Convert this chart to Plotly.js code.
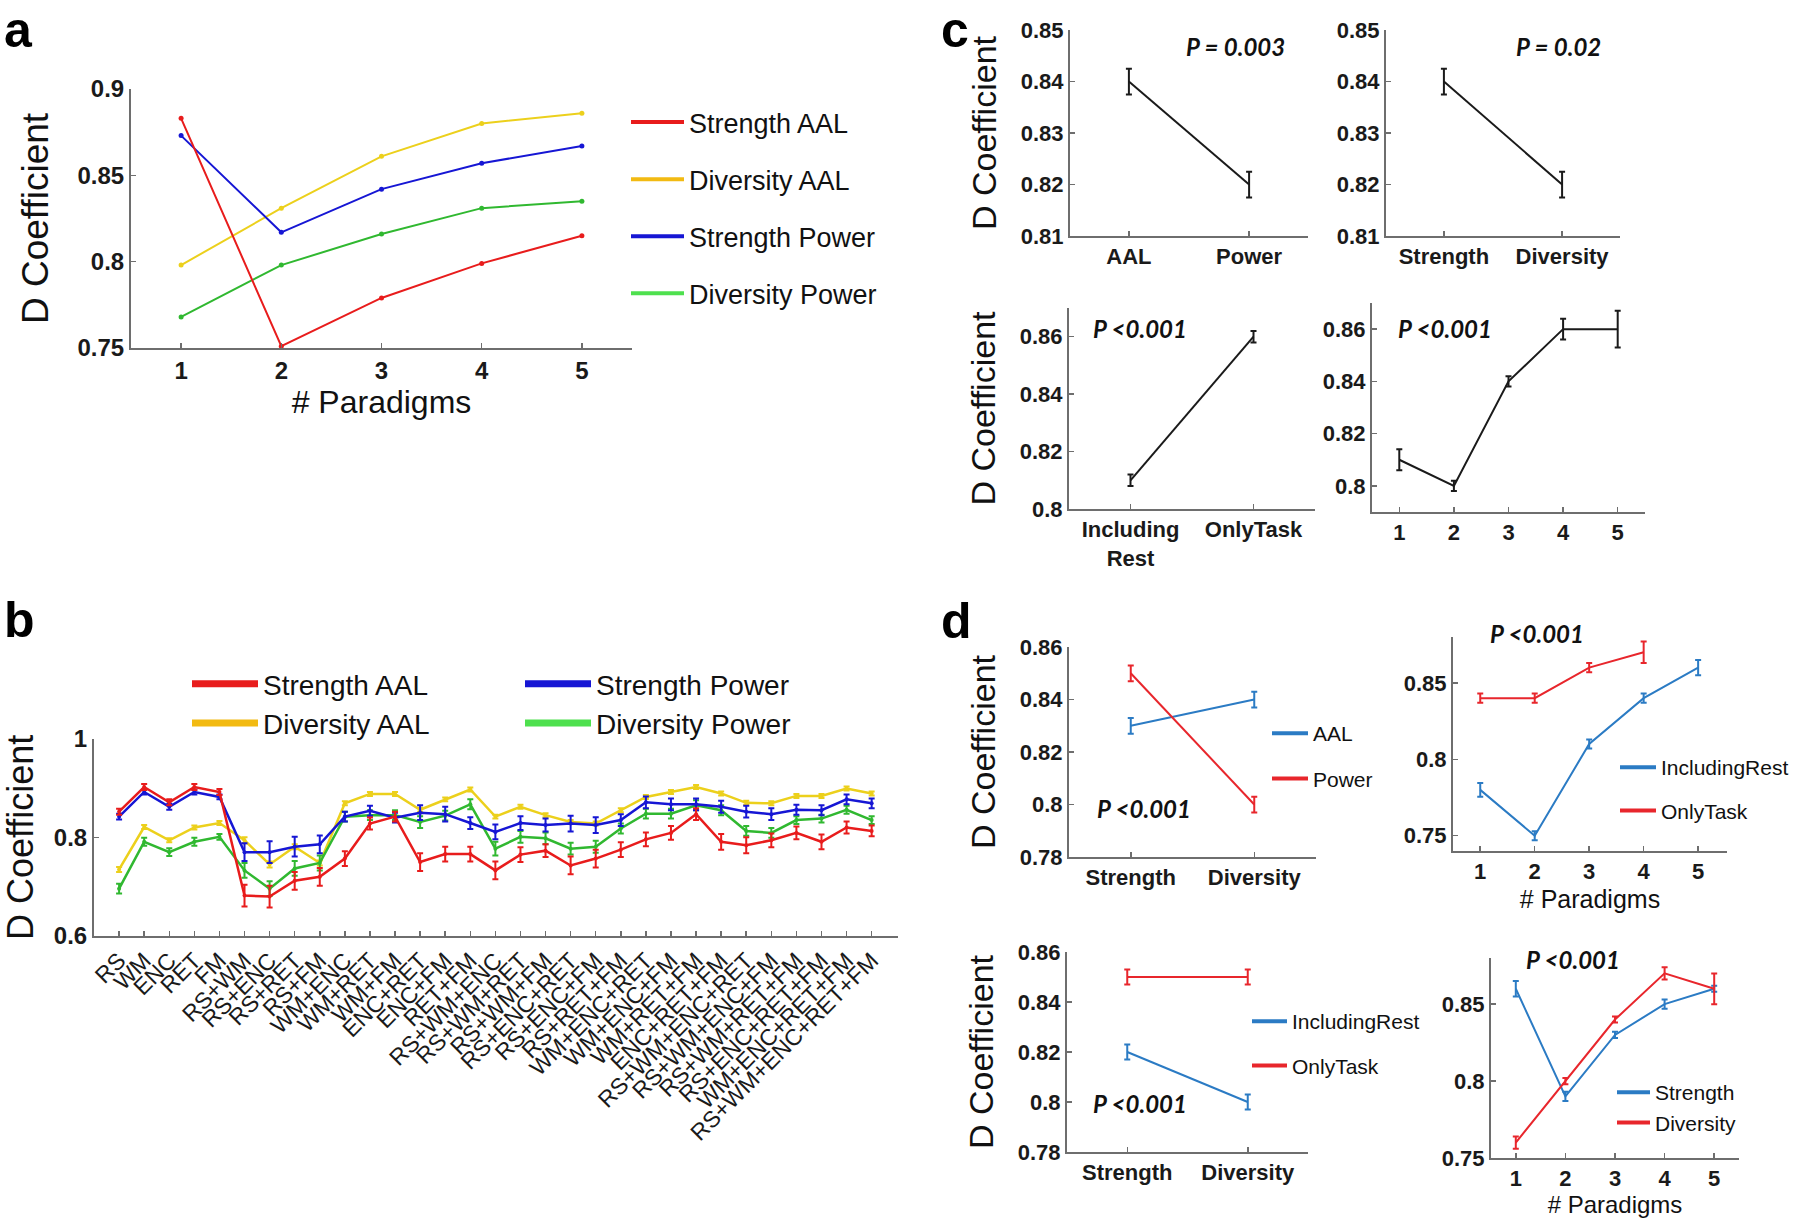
<!DOCTYPE html>
<html>
<head>
<meta charset="utf-8">
<script src="https://cdn.plot.ly/plotly-3.0.1.min.js"></script>
<style>html,body{margin:0;padding:0;background:#fff;}#fig{width:1800px;height:1222px;}</style>
</head>
<body>
<div id="fig"></div>
<script>
// ---------------- DATA ----------------
// Panel a
const paradigmsN = [1, 2, 3, 4, 5];
const aStrengthAAL   = [0.883, 0.751, 0.779, 0.799, 0.815];
const aDiversityAAL  = [0.798, 0.831, 0.861, 0.880, 0.886];
const aStrengthPower = [0.873, 0.817, 0.842, 0.857, 0.867];
const aDiversityPower= [0.768, 0.798, 0.816, 0.831, 0.835];

// Panel b
const bCategories = ['RS','WM','ENC','RET','FM','RS+WM','RS+ENC','RS+RET','RS+FM','WM+ENC','WM+RET','WM+FM',
  'ENC+RET','ENC+FM','RET+FM','RS+WM+ENC','RS+WM+RET','RS+WM+FM','RS+ENC+RET','RS+ENC+FM','RS+RET+FM',
  'WM+ENC+RET','WM+ENC+FM','WM+RET+FM','ENC+RET+FM','RS+WM+ENC+RET','RS+WM+ENC+FM','RS+WM+RET+FM',
  'RS+ENC+RET+FM','WM+ENC+RET+FM','RS+WM+ENC+RET+FM'];
const bStrengthAAL   = [0.852,0.902,0.871,0.902,0.892,0.682,0.680,0.712,0.720,0.757,0.828,0.842,0.750,0.766,0.766,
  0.733,0.765,0.773,0.743,0.757,0.775,0.796,0.809,0.847,0.791,0.784,0.794,0.809,0.791,0.820,0.813];
const bStrengthAALErr= [0.006,0.006,0.006,0.006,0.006,0.022,0.022,0.018,0.018,0.015,0.012,0.010,0.018,0.015,0.015,
  0.018,0.015,0.013,0.018,0.018,0.015,0.014,0.014,0.012,0.016,0.016,0.014,0.013,0.015,0.012,0.011];
const bDiversityAAL  = [0.735,0.821,0.794,0.820,0.829,0.794,0.745,0.781,0.748,0.869,0.888,0.888,0.856,0.877,0.897,
  0.842,0.862,0.845,0.831,0.828,0.855,0.882,0.892,0.902,0.889,0.870,0.869,0.884,0.884,0.899,0.889];
const bDiversityAALErr=[0.005,0.004,0.004,0.004,0.004,0.006,0.006,0.005,0.005,0.004,0.004,0.004,0.004,0.004,0.004,
  0.004,0.004,0.004,0.004,0.004,0.004,0.004,0.004,0.004,0.004,0.004,0.004,0.004,0.004,0.004,0.004];
const bStrengthPower = [0.842,0.892,0.862,0.892,0.882,0.770,0.770,0.781,0.786,0.842,0.854,0.840,0.850,0.847,0.829,
  0.811,0.829,0.825,0.828,0.825,0.835,0.871,0.867,0.867,0.862,0.852,0.847,0.856,0.855,0.877,0.869];
const bStrengthPowerErr=[0.006,0.005,0.006,0.005,0.005,0.018,0.022,0.020,0.018,0.010,0.010,0.010,0.015,0.015,0.012,
  0.015,0.014,0.013,0.016,0.016,0.012,0.012,0.012,0.012,0.012,0.012,0.012,0.010,0.010,0.010,0.010];
const bDiversityPower= [0.696,0.791,0.770,0.791,0.801,0.733,0.696,0.737,0.748,0.842,0.845,0.845,0.831,0.844,0.867,
  0.777,0.801,0.798,0.777,0.781,0.818,0.848,0.848,0.865,0.855,0.813,0.809,0.835,0.838,0.856,0.835];
const bDiversityPowerErr=[0.010,0.008,0.008,0.008,0.006,0.015,0.015,0.015,0.015,0.010,0.010,0.010,0.012,0.010,0.010,
  0.014,0.012,0.012,0.012,0.012,0.010,0.010,0.010,0.010,0.010,0.010,0.010,0.008,0.008,0.008,0.008];

// Panel c
const cAtlas = ['AAL', 'Power'];
const cAtlasMean = [0.840, 0.820];
const cAtlasErr  = [0.0025, 0.0025];
const cMeasure = ['Strength', 'Diversity'];
const cMeasureMean = [0.840, 0.820];
const cMeasureErr  = [0.0025, 0.0025];
const cRest = ['Including Rest', 'OnlyTask'];
const cRestTicks = ['Including<br>Rest', 'OnlyTask'];
const cRestMean = [0.810, 0.860];
const cRestErr  = [0.002, 0.002];
const cParadigmMean = [0.810, 0.800, 0.840, 0.860, 0.860];
const cParadigmErr  = [0.004, 0.002, 0.002, 0.004, 0.007];

// Panel d
const dAALMean = [0.830, 0.840],   dAALErr = [0.003, 0.003];
const dPowerMean = [0.850, 0.800], dPowerErr = [0.003, 0.003];
const dParadigmsTask = [1, 2, 3, 4];
const dInclRestByN = [0.780, 0.750, 0.810, 0.840, 0.860], dInclRestByNErr = [0.0045, 0.003, 0.003, 0.003, 0.005];
const dOnlyTaskByN = [0.840, 0.840, 0.860, 0.870],        dOnlyTaskByNErr = [0.003, 0.003, 0.003, 0.007];
const dInclRestByMeasure = [0.820, 0.800], dInclRestByMeasureErr = [0.003, 0.003];
const dOnlyTaskByMeasure = [0.850, 0.850], dOnlyTaskByMeasureErr = [0.003, 0.003];
const dStrengthByN  = [0.860, 0.790, 0.830, 0.850, 0.860], dStrengthByNErr  = [0.005, 0.003, 0.002, 0.003, 0.002];
const dDiversityByN = [0.760, 0.800, 0.840, 0.870, 0.860], dDiversityByNErr = [0.004, 0.002, 0.002, 0.004, 0.010];

// ---------------- STYLE ----------------
const FONT = 'Liberation Sans, Arial, Helvetica, sans-serif';
const PFONT = 'Lato, Open Sans, sans-serif';
const RED = '#e81c1c', YEL = '#ecd01c', BLU = '#1616d4', GRN = '#30b830';
const YEL_L = '#f2ba12', GRN_L = '#4ee04e';
const DBLUE = '#2b7bc4', DRED = '#e8262c', BLACK = '#1a1a1a';
const AX = '#6e6e6e';
const W = 1800, H = 1222;
const px = v => v / W;
const py = v => 1 - v / H;

function axis(x0, x1, range, extra) {
  return Object.assign({
    domain: [x0, x1], range: range, showline: true, linecolor: AX, linewidth: 2,
    ticks: 'inside', ticklen: 5, tickwidth: 1.5, tickcolor: AX,
    showgrid: false, zeroline: false, fixedrange: true, automargin: false,
    tickfont: {family: FONT, size: 22, color: '#1a1a1a', weight: 'bold'}
  }, extra || {});
}
const yTitle = (standoff, size) => ({text: 'D Coefficient', font: {family: FONT, size: size || 35, color: '#111'}, standoff: standoff});
const xTitle = (standoff, size) => ({text: '# Paradigms', font: {family: FONT, size: size || 24, color: '#111'}, standoff: standoff});

function series(xa, ya, x, y, color, width, err, extra) {
  const t = {type: 'scatter', mode: 'lines', x: x, y: y, xaxis: xa, yaxis: ya, showlegend: false,
    line: {color: color, width: width}, hoverinfo: 'skip'};
  if (err) t.error_y = {type: 'data', array: err, visible: true, color: color, thickness: 2, width: 3};
  return Object.assign(t, extra || {});
}
function proxy(xa, ya, name, color, width, legend, group) {
  return {type: 'scatter', mode: 'lines', x: [null], y: [null], xaxis: xa, yaxis: ya, name: name,
    line: {color: color, width: width}, showlegend: true, legend: legend, legendgroup: group, hoverinfo: 'skip'};
}

const traces = [];
// Panel a
const mk = c => ({mode: 'lines+markers', marker: {size: 5, color: c}});
traces.push(series('x', 'y', paradigmsN, aDiversityPower, GRN, 2, null, mk(GRN)));
traces.push(series('x', 'y', paradigmsN, aDiversityAAL, YEL, 2, null, mk(YEL)));
traces.push(series('x', 'y', paradigmsN, aStrengthPower, BLU, 2, null, mk(BLU)));
traces.push(series('x', 'y', paradigmsN, aStrengthAAL, RED, 2, null, mk(RED)));
traces.push(proxy('x', 'y', 'Strength AAL', RED, 4, 'legend', 'a1'));
traces.push(proxy('x', 'y', 'Diversity AAL', YEL_L, 4, 'legend', 'a2'));
traces.push(proxy('x', 'y', 'Strength Power', BLU, 4, 'legend', 'a3'));
traces.push(proxy('x', 'y', 'Diversity Power', GRN_L, 4, 'legend', 'a4'));

// Panel b
const mkb = c => ({mode: 'lines+markers', marker: {size: 4, color: c}});
traces.push(series('x2', 'y2', bCategories, bDiversityAAL, YEL, 2.5, bDiversityAALErr, mkb(YEL)));
traces.push(series('x2', 'y2', bCategories, bDiversityPower, GRN, 2.5, bDiversityPowerErr, mkb(GRN)));
traces.push(series('x2', 'y2', bCategories, bStrengthPower, BLU, 2.5, bStrengthPowerErr, mkb(BLU)));
traces.push(series('x2', 'y2', bCategories, bStrengthAAL, RED, 2.5, bStrengthAALErr, mkb(RED)));
traces.push(proxy('x2', 'y2', 'Strength AAL', RED, 7, 'legend2', 'b1'));
traces.push(proxy('x2', 'y2', 'Diversity AAL', YEL_L, 7, 'legend2', 'b2'));
traces.push(proxy('x2', 'y2', 'Strength Power', BLU, 7, 'legend3', 'b3'));
traces.push(proxy('x2', 'y2', 'Diversity Power', GRN_L, 7, 'legend3', 'b4'));

// Panel c
traces.push(series('x3', 'y3', cAtlas, cAtlasMean, BLACK, 2, cAtlasErr));
traces.push(series('x4', 'y4', cMeasure, cMeasureMean, BLACK, 2, cMeasureErr));
traces.push(series('x5', 'y5', cRest, cRestMean, BLACK, 2, cRestErr));
traces.push(series('x6', 'y6', paradigmsN, cParadigmMean, BLACK, 2, cParadigmErr));

// Panel d
traces.push(series('x7', 'y7', cMeasure, dAALMean, DBLUE, 2, dAALErr));
traces.push(series('x7', 'y7', cMeasure, dPowerMean, DRED, 2, dPowerErr));
traces.push(proxy('x7', 'y7', 'AAL', DBLUE, 4, 'legend4', 'd1a'));
traces.push(proxy('x7', 'y7', 'Power', DRED, 4, 'legend4', 'd1b'));

traces.push(series('x8', 'y8', paradigmsN, dInclRestByN, DBLUE, 2, dInclRestByNErr));
traces.push(series('x8', 'y8', dParadigmsTask, dOnlyTaskByN, DRED, 2, dOnlyTaskByNErr));
traces.push(proxy('x8', 'y8', 'IncludingRest', DBLUE, 4, 'legend5', 'd2a'));
traces.push(proxy('x8', 'y8', 'OnlyTask', DRED, 4, 'legend5', 'd2b'));

traces.push(series('x9', 'y9', cMeasure, dInclRestByMeasure, DBLUE, 2, dInclRestByMeasureErr));
traces.push(series('x9', 'y9', cMeasure, dOnlyTaskByMeasure, DRED, 2, dOnlyTaskByMeasureErr));
traces.push(proxy('x9', 'y9', 'IncludingRest', DBLUE, 4, 'legend6', 'd3a'));
traces.push(proxy('x9', 'y9', 'OnlyTask', DRED, 4, 'legend6', 'd3b'));

traces.push(series('x10', 'y10', paradigmsN, dStrengthByN, DBLUE, 2, dStrengthByNErr));
traces.push(series('x10', 'y10', paradigmsN, dDiversityByN, DRED, 2, dDiversityByNErr));
traces.push(proxy('x10', 'y10', 'Strength', DBLUE, 4, 'legend7', 'd4a'));
traces.push(proxy('x10', 'y10', 'Diversity', DRED, 4, 'legend7', 'd4b'));

function legendAt(lx, topY, size, gap, itemwidth) {
  return {x: px(lx), y: py(topY), xanchor: 'left', yanchor: 'top', bgcolor: 'rgba(0,0,0,0)', borderwidth: 0,
    font: {family: FONT, size: size, color: '#111'}, tracegroupgap: gap, itemwidth: itemwidth,
    traceorder: 'grouped', itemclick: false, itemdoubleclick: false};
}

const tick24 = {family: FONT, size: 24, color: '#1a1a1a', weight: 'bold'};
const layout = {
  width: W, height: H, margin: {l: 0, r: 0, t: 0, b: 0}, paper_bgcolor: '#fff', plot_bgcolor: 'rgba(0,0,0,0)',
  font: {family: FONT}, showlegend: true, hovermode: false,
  // a
  xaxis: axis(px(131), px(632), [0.5, 5.5], {anchor: 'y', tickvals: paradigmsN, tickfont: tick24, title: xTitle(8, 32)}),
  yaxis: axis(py(348), py(89), [0.75, 0.9], {anchor: 'x', tickvals: [0.75, 0.8, 0.85, 0.9], ticktext: ['0.75', '0.8', '0.85', '0.9'], tickfont: tick24, title: yTitle(18, 37)}),
  // b
  xaxis2: axis(px(94), px(898), [-1, 31.05], {anchor: 'y2', type: 'category', tickangle: -45,
    tickmode: 'array', tickvals: bCategories, ticktext: bCategories,
    tickfont: {family: FONT, size: 23, color: '#1a1a1a'}}),
  yaxis2: axis(py(936), py(738.7), [0.6, 1.0], {anchor: 'x2', tickvals: [0.6, 0.8, 1.0], ticktext: ['0.6', '0.8', '1'], tickfont: tick24, title: yTitle(13, 36)}),
  // c
  xaxis3: axis(px(1070), px(1308), [-0.49, 1.49], {anchor: 'y3', type: 'category'}),
  yaxis3: axis(py(236), py(30), [0.81, 0.85], {anchor: 'x3', tickvals: [0.81, 0.82, 0.83, 0.84, 0.85], title: yTitle(14, 34)}),
  xaxis4: axis(px(1386), px(1620), [-0.49, 1.49], {anchor: 'y4', type: 'category'}),
  yaxis4: axis(py(236), py(30), [0.81, 0.85], {anchor: 'x4', tickvals: [0.81, 0.82, 0.83, 0.84, 0.85]}),
  xaxis5: axis(px(1069), px(1315), [-0.5, 1.5], {anchor: 'y5', type: 'category', tickvals: cRest, ticktext: cRestTicks}),
  yaxis5: axis(py(509), py(308), [0.8, 0.87], {anchor: 'x5', tickvals: [0.8, 0.82, 0.84, 0.86], ticktext: ['0.8', '0.82', '0.84', '0.86'], title: yTitle(14, 34)}),
  xaxis6: axis(px(1372), px(1645), [0.5, 5.5], {anchor: 'y6', tickvals: paradigmsN}),
  yaxis6: axis(py(512), py(303), [0.79, 0.87], {anchor: 'x6', tickvals: [0.8, 0.82, 0.84, 0.86], ticktext: ['0.8', '0.82', '0.84', '0.86']}),
  // d
  xaxis7: axis(px(1069), px(1316), [-0.5, 1.5], {anchor: 'y7', type: 'category'}),
  yaxis7: axis(py(857), py(647), [0.78, 0.86], {anchor: 'x7', tickvals: [0.78, 0.8, 0.82, 0.84, 0.86], ticktext: ['0.78', '0.8', '0.82', '0.84', '0.86'], title: yTitle(14, 34)}),
  xaxis8: axis(px(1453), px(1727), [0.5, 5.53], {anchor: 'y8', tickvals: paradigmsN, title: xTitle(7, 25)}),
  yaxis8: axis(py(851), py(637), [0.74, 0.88], {anchor: 'x8', tickvals: [0.75, 0.8, 0.85], ticktext: ['0.75', '0.8', '0.85']}),
  xaxis9: axis(px(1067), px(1308), [-0.5, 1.5], {anchor: 'y9', type: 'category'}),
  yaxis9: axis(py(1152), py(952), [0.78, 0.86], {anchor: 'x9', tickvals: [0.78, 0.8, 0.82, 0.84, 0.86], ticktext: ['0.78', '0.8', '0.82', '0.84', '0.86'], title: yTitle(14, 34)}),
  xaxis10: axis(px(1491), px(1739), [0.5, 5.5], {anchor: 'y10', tickvals: paradigmsN, title: xTitle(6, 24)}),
  yaxis10: axis(py(1158), py(958), [0.75, 0.88], {anchor: 'x10', tickvals: [0.75, 0.8, 0.85], ticktext: ['0.75', '0.8', '0.85']}),
  legend:  legendAt(626, 98, 27, 19, 53),
  legend2: legendAt(187, 659, 28, 0, 66),
  legend3: legendAt(520, 659, 28, 0, 66),
  legend4: legendAt(1267, 713, 21, 15, 36),
  legend5: legendAt(1615, 747, 21, 13, 36),
  legend6: legendAt(1247, 1001, 21, 14, 35),
  legend7: legendAt(1612, 1072, 21, 0, 33),
  annotations: []
};

const panelLabels = [['a', 2, 0, 'top'], ['b', 2, 619.5, 'middle'], ['c', 939, 0, 'top'], ['d', 939, 620.5, 'middle']];
panelLabels.forEach(([t, x, y, ya]) => layout.annotations.push({
  text: '<b>' + t + '</b>', x: px(x), y: py(y), xref: 'paper', yref: 'paper', xanchor: 'left', yanchor: ya,
  showarrow: false, font: {family: FONT, size: 50, color: '#000'}
}));
const pvals = [['P = 0.003', 1235, 47], ['P = 0.02', 1558, 47], ['P <0.001', 1140, 329], ['P <0.001', 1445, 329],
  ['P <0.001', 1144, 808], ['P <0.001', 1537, 633], ['P <0.001', 1140, 1103], ['P <0.001', 1573, 960]];
pvals.forEach(([t, x, y]) => layout.annotations.push({
  text: '<b><i>' + t + '</i></b>', x: px(x), y: py(y), xref: 'paper', yref: 'paper', xanchor: 'center', yanchor: 'middle',
  showarrow: false, font: {family: PFONT, size: 24, color: '#111'}
}));

Plotly.newPlot('fig', traces, layout, {staticPlot: true, displayModeBar: false});
</script>
</body>
</html>
